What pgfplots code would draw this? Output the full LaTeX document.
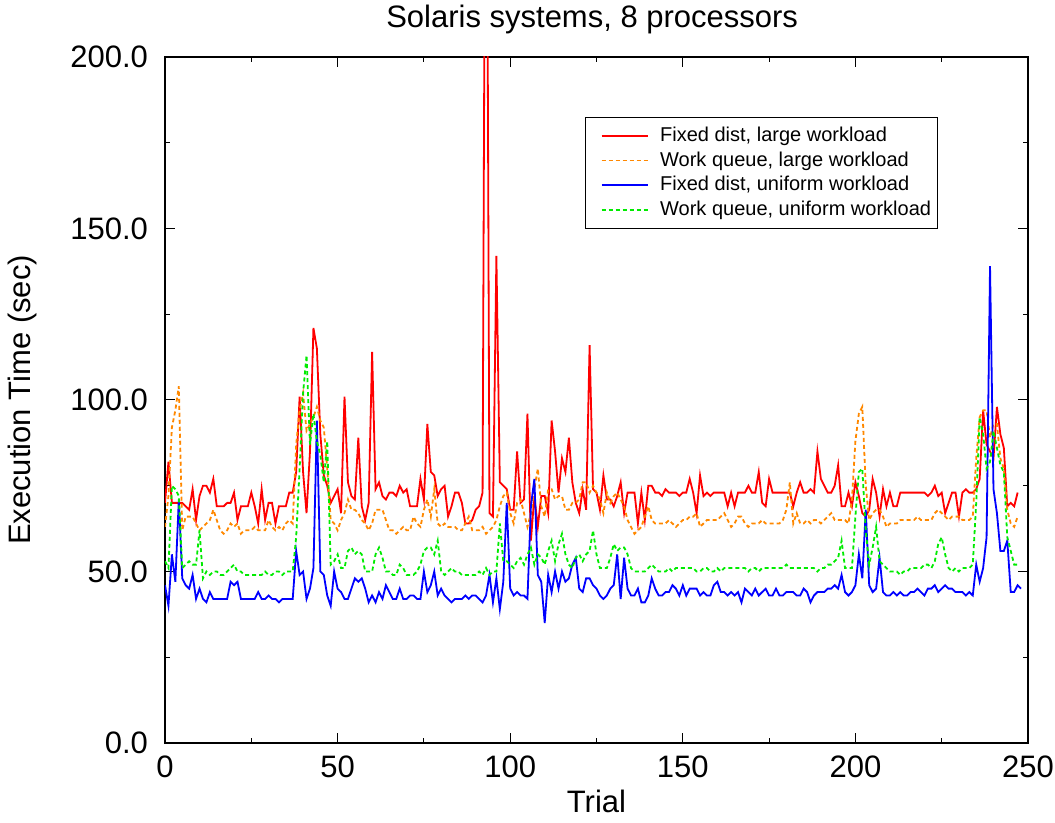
\documentclass[border=0pt]{standalone}
\usepackage{pgfplots}
\pgfplotsset{compat=1.18}
\usepackage{pgfplotstable}
\usepackage{fontspec}
\setmainfont{Liberation Sans}

\definecolor{cred}{RGB}{255,0,0}
\definecolor{corange}{RGB}{255,136,0}
\definecolor{cblue}{RGB}{0,0,255}
\definecolor{cgreen}{RGB}{0,235,0}

% Fixed dist, large workload (trials 0..247)
\pgfplotstableread[row sep=\\]{y\\
70\\82\\70\\70\\70\\70\\69\\68\\74\\65\\72\\75\\75\\73\\77\\69\\69\\69\\70\\70\\
73\\65\\69\\69\\69\\73\\69\\64\\74\\65\\70\\70\\64\\69\\69\\69\\73\\73\\79\\101\\
79\\67\\85\\121\\115\\90\\78\\75\\70\\72\\74\\67\\101\\76\\72\\71\\89\\69\\65\\70\\
114\\74\\76\\72\\71\\73\\73\\72\\75\\73\\74\\69\\69\\69\\77\\71\\93\\79\\78\\72\\
74\\75\\66\\69\\73\\73\\70\\64\\64\\65\\68\\69\\73\\330\\67\\66\\142\\76\\75\\74\\
68\\68\\85\\70\\71\\96\\59\\72\\63\\72\\72\\67\\94\\85\\73\\83\\79\\89\\76\\70\\
67\\74\\68\\116\\74\\73\\68\\78\\71\\71\\69\\72\\76\\67\\73\\73\\73\\64\\73\\65\\
75\\75\\73\\73\\72\\74\\73\\73\\73\\72\\73\\73\\77\\73\\67\\78\\72\\73\\72\\73\\
73\\73\\73\\69\\73\\69\\73\\73\\73\\75\\73\\73\\79\\70\\69\\77\\73\\73\\73\\73\\
73\\73\\69\\73\\76\\73\\73\\74\\73\\85\\77\\75\\73\\73\\75\\81\\69\\69\\73\\69\\
76\\72\\67\\66\\68\\77\\73\\66\\74\\69\\73\\69\\69\\73\\73\\73\\73\\73\\73\\73\\
73\\72\\73\\75\\72\\73\\67\\70\\73\\73\\66\\73\\74\\73\\73\\74\\77\\97\\87\\85\\
83\\98\\90\\86\\69\\70\\69\\73\\
}\redtab

% Work queue, large workload (trials 0..247)
\pgfplotstableread[row sep=\\]{y\\
63\\72\\92\\97\\104\\62\\66\\66\\66\\64\\62\\63\\64\\65\\68\\65\\62\\61\\62\\64\\
63\\64\\61\\62\\62\\62\\63\\62\\62\\62\\65\\63\\62\\63\\62\\64\\65\\64\\87\\97\\
102\\91\\93\\95\\98\\94\\92\\80\\65\\64\\62\\65\\67\\71\\68\\68\\67\\65\\64\\62\\
64\\68\\68\\68\\65\\62\\62\\61\\62\\63\\62\\62\\66\\64\\63\\68\\71\\66\\74\\64\\
63\\64\\63\\63\\63\\62\\62\\64\\66\\62\\62\\62\\63\\61\\62\\63\\65\\69\\72\\73\\
67\\64\\70\\71\\67\\63\\67\\74\\80\\69\\66\\74\\74\\71\\72\\72\\68\\68\\70\\70\\
71\\76\\76\\73\\75\\73\\71\\67\\73\\70\\72\\73\\71\\69\\65\\63\\61\\62\\63\\66\\
69\\65\\64\\64\\64\\64\\65\\64\\63\\64\\65\\65\\66\\66\\67\\63\\64\\65\\65\\65\\
65\\66\\67\\65\\63\\64\\66\\66\\64\\63\\64\\64\\64\\65\\64\\64\\64\\64\\64\\65\\
68\\76\\64\\67\\64\\64\\65\\64\\65\\65\\64\\65\\66\\67\\65\\65\\65\\65\\64\\71\\
88\\96\\98\\75\\65\\67\\68\\68\\66\\63\\64\\64\\64\\65\\65\\65\\65\\65\\66\\65\\
65\\65\\65\\67\\68\\67\\66\\65\\66\\66\\66\\65\\65\\65\\66\\83\\95\\97\\97\\89\\
93\\93\\83\\80\\68\\64\\63\\66\\
}\orangetab

% Fixed dist, uniform workload (trials 0..248)
\pgfplotstableread[row sep=\\]{y\\
46\\40\\55\\47\\71\\48\\46\\45\\49\\42\\45\\42\\41\\44\\42\\42\\42\\42\\42\\47\\
46\\47\\42\\42\\42\\42\\42\\44\\42\\42\\43\\42\\42\\41\\42\\42\\42\\42\\56\\49\\
50\\42\\45\\51\\94\\50\\49\\43\\40\\50\\45\\44\\42\\42\\45\\48\\47\\48\\45\\41\\
43\\41\\44\\42\\46\\44\\42\\42\\45\\42\\42\\43\\43\\42\\42\\50\\44\\46\\50\\43\\
45\\43\\42\\41\\42\\42\\42\\43\\42\\43\\43\\42\\41\\43\\49\\41\\48\\39\\47\\70\\
45\\43\\44\\43\\43\\42\\69\\77\\49\\47\\35\\49\\44\\50\\45\\50\\47\\48\\52\\54\\
45\\44\\48\\48\\46\\45\\43\\42\\43\\45\\46\\55\\42\\54\\45\\43\\43\\45\\41\\41\\
43\\48\\45\\43\\43\\44\\44\\46\\45\\43\\46\\43\\45\\45\\45\\43\\44\\43\\43\\46\\
47\\44\\44\\43\\44\\43\\44\\41\\45\\44\\43\\45\\43\\44\\45\\43\\43\\45\\43\\43\\
44\\44\\44\\43\\43\\45\\44\\41\\43\\44\\44\\44\\45\\45\\46\\45\\49\\44\\43\\44\\
46\\55\\48\\68\\46\\44\\45\\54\\44\\43\\43\\44\\43\\44\\43\\43\\44\\44\\45\\44\\
43\\45\\45\\46\\44\\45\\46\\45\\45\\44\\44\\44\\43\\44\\43\\52\\47\\51\\60\\139\\
74\\67\\56\\56\\59\\44\\44\\46\\45\\
}\bluetab

% Work queue, uniform workload (trials 0..247)
\pgfplotstableread[row sep=\\]{y\\
53\\51\\75\\74\\72\\51\\52\\53\\52\\52\\62\\48\\50\\49\\50\\50\\49\\49\\50\\51\\
52\\50\\50\\49\\49\\49\\49\\49\\49\\50\\49\\49\\50\\50\\49\\50\\50\\50\\60\\80\\
102\\113\\87\\96\\88\\84\\76\\88\\52\\53\\55\\51\\51\\56\\57\\55\\56\\55\\50\\50\\
50\\55\\57\\54\\50\\50\\49\\49\\52\\51\\49\\49\\49\\50\\52\\56\\57\\57\\55\\59\\
50\\49\\50\\51\\50\\50\\49\\49\\49\\49\\49\\50\\49\\51\\49\\50\\50\\64\\53\\53\\
52\\51\\53\\54\\52\\55\\57\\52\\55\\54\\52\\56\\59\\53\\58\\61\\55\\52\\51\\54\\
55\\53\\55\\56\\62\\55\\51\\51\\51\\54\\58\\56\\57\\57\\55\\51\\50\\50\\50\\50\\
51\\52\\51\\50\\50\\50\\51\\50\\51\\51\\51\\51\\51\\51\\50\\50\\51\\51\\50\\50\\
51\\50\\51\\51\\51\\51\\51\\51\\51\\50\\51\\51\\50\\51\\51\\51\\51\\51\\51\\51\\
52\\51\\51\\51\\51\\51\\51\\51\\51\\50\\51\\51\\52\\52\\53\\54\\59\\51\\51\\51\\
66\\79\\80\\62\\52\\57\\63\\53\\52\\51\\50\\50\\50\\49\\50\\50\\51\\51\\51\\51\\
52\\52\\51\\53\\58\\60\\55\\51\\50\\51\\50\\51\\51\\51\\52\\70\\95\\90\\80\\82\\
91\\86\\81\\79\\60\\56\\52\\52\\
}\greentab

\begin{document}
\begin{tikzpicture}
\begin{axis}[
  name=ax,
  scale only axis,
  width=431.5pt, height=343pt,
  xmin=0, xmax=250, ymin=0, ymax=200,
  xtick={0,50,...,250}, minor xtick={25,75,...,225},
  ytick={0,50,...,200}, minor ytick={25,75,125,175},
  tick align=inside,
  major tick length=5pt, minor tick length=2.5pt,
  every tick/.style={black, line width=0.5pt},
  axis line style={line width=0.7pt},
  /pgf/number format/assume math mode=true,
  tick label style={font=\fontsize{15.5}{18}\selectfont},
  y tick label style={xshift=-5pt, /pgf/number format/fixed, /pgf/number format/fixed zerofill, /pgf/number format/precision=1},
  x tick label style={yshift=-3pt, /pgf/number format/fixed, /pgf/number format/precision=0},
  every axis title shift=0pt,
  title={Solaris systems, 8 processors},
  title style={font=\fontsize{15.5}{18}\selectfont, at={(axis description cs:0.495,1.054)}, anchor=center},
  xlabel={Trial},
  xlabel style={font=\fontsize{15.5}{18}\selectfont, at={(axis description cs:0.5,-0.0845)}, anchor=center},
  ylabel={Execution Time (sec)},
  ylabel style={font=\fontsize{15.5}{18}\selectfont, at={(axis description cs:-0.1657,0.5)}, anchor=center},
  legend style={at={(axis description cs:0.487,0.9125)}, anchor=north west,
    font=\fontsize{10}{12}\selectfont, draw=black, line width=0.5pt,
    inner xsep=1.5pt, inner ysep=3pt, nodes={inner sep=1.8pt}},
  legend cell align=left,
  legend image code/.code={\draw[#1] (6pt,0pt) -- (29pt,0pt); \path (0pt,0pt) (33pt,0pt);},
]
\addplot[draw=cred, line width=0.9pt] table[x expr=\coordindex, y=y] {\redtab};
\addlegendentry{Fixed dist, large workload}
\addplot[draw=corange, line width=0.9pt, dash pattern=on 2pt off 1.5pt] table[x expr=\coordindex, y=y] {\orangetab};
\addlegendentry{Work queue, large workload}
\addplot[draw=cblue, line width=0.9pt] table[x expr=\coordindex, y=y] {\bluetab};
\addlegendentry{Fixed dist, uniform workload}
\addplot[draw=cgreen, line width=0.9pt, dash pattern=on 2pt off 1.5pt] table[x expr=\coordindex, y=y] {\greentab};
\addlegendentry{Work queue, uniform workload}
\end{axis}
\pgfresetboundingbox
\path[use as bounding box] (ax.south west) ++(-82.5pt,-40pt) rectangle ++(527.5pt,411.5pt);
\end{tikzpicture}
\end{document}
